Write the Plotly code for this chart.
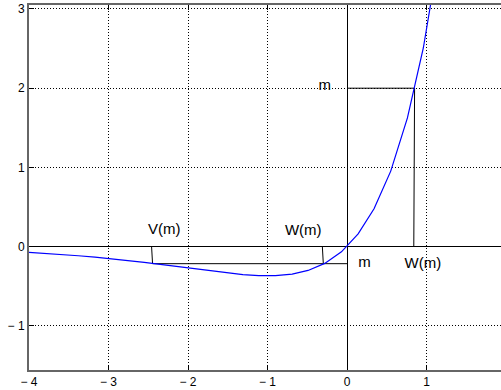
import plotly.graph_objects as go

curve_x = [-4.00, -3.79, -3.59, -3.38, -3.17, -2.97, -2.76, -2.55, -2.35, -2.14,
           -1.93, -1.73, -1.52, -1.31, -1.11, -0.90, -0.69, -0.49, -0.28, -0.07,
           0.14, 0.34, 0.55, 0.76, 0.96, 1.17]
curve_y = [-0.0733, -0.0857, -0.0991, -0.1151, -0.1332, -0.1524, -0.1747, -0.1991,
           -0.2241, -0.2518, -0.2801, -0.3067, -0.3324, -0.3535, -0.3658, -0.3659,
           -0.3461, -0.3002, -0.2116, -0.0653, 0.1610, 0.4777, 0.9533, 1.6251,
           2.5072, 3.7697]

# Construction lines
m_pos = 2.0
w_pos = [0.84, 0.85]          # W(m) for m = 2 (top at y=0, bottom at y=m)
m_neg = -0.215
v_neg = [-2.458, -2.446]      # V(m) for negative m
w_neg = [-0.310, -0.298]      # W(m) for negative m

x_ticks = [-4, -3, -2, -1, 0, 1]
x_tick_text = ["\u2212 4", "\u2212 3", "\u2212 2", "\u2212 1", "0", "1"]
y_ticks = [-1, 0, 1, 2, 3]
y_tick_text = ["\u2212 1", "0", "1", "2", "3"]

labels_text = ["V(m)", "W(m)", "m", "W(m)", "m"]
labels_x = [-2.30, -0.55, 0.22, 0.955, -0.28]
labels_y = [0.21, 0.20, -0.215, -0.22, 2.03]

fig = go.Figure()

blk = dict(color="black", width=1)
# m = 2 construction
fig.add_trace(go.Scatter(x=[0, w_pos[1], w_pos[0]], y=[m_pos, m_pos, 0],
                         mode="lines", line=blk, hoverinfo="skip"))
# negative m construction
fig.add_trace(go.Scatter(x=[v_neg[0], v_neg[1], 0], y=[0, m_neg, m_neg],
                         mode="lines", line=blk, hoverinfo="skip"))
fig.add_trace(go.Scatter(x=[w_neg[0], w_neg[1]], y=[0, m_neg],
                         mode="lines", line=blk, hoverinfo="skip"))
# curve
fig.add_trace(go.Scatter(x=curve_x, y=curve_y, mode="lines",
                         line=dict(color="#0000ff", width=1.2), hoverinfo="skip"))
# labels
fig.add_trace(go.Scatter(x=labels_x, y=labels_y, mode="text", text=labels_text,
                         textposition="middle center",
                         textfont=dict(family="Liberation Sans, Arial", size=15, color="black"),
                         hoverinfo="skip"))

axis_common = dict(
    showgrid=True, gridcolor="black", griddash="1px,2px", gridwidth=1,
    zeroline=True, zerolinecolor="black", zerolinewidth=1,
    showline=True, linecolor="#666666", linewidth=2,
    ticks="inside", ticklen=5, tickcolor="black", tickwidth=1,
    tickfont=dict(family="Liberation Sans, Arial", size=12, color="black"),
    fixedrange=True, automargin=False,
)

fig.update_layout(
    width=501, height=390,
    margin=dict(l=29, r=0, t=5, b=20, autoexpand=False),
    plot_bgcolor="white", paper_bgcolor="white",
    showlegend=False,
    xaxis=dict(range=[-4, 1.937], tickvals=x_ticks, ticktext=x_tick_text,
               mirror="ticks", ticklabelstandoff=0, **axis_common),
    yaxis=dict(range=[-1.557, 3.05], tickvals=y_ticks, ticktext=y_tick_text,
               ticklabelstandoff=0, **axis_common),
)

fig.write_html("out.html", config={"displayModeBar": False},
               post_script="document.body.style.margin='0';document.body.style.overflow='hidden';")
